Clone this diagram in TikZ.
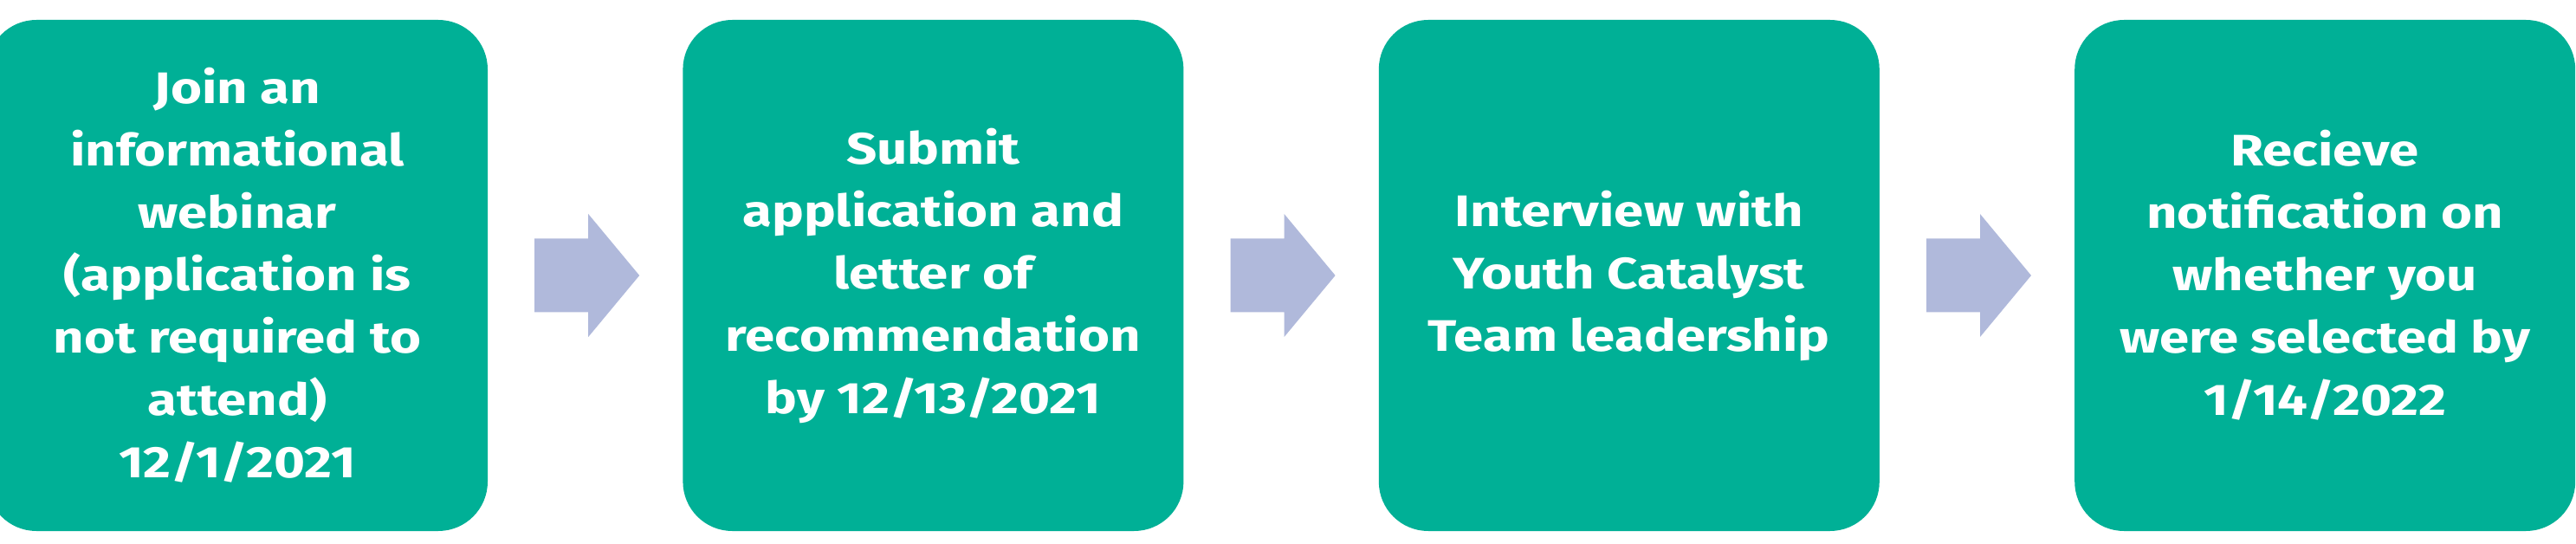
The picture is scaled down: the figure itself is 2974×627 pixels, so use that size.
\documentclass[tikz,border=0pt]{standalone}
\usepackage{fontspec}
\setmainfont{Fira Sans}[FakeStretch=1.21]
\usetikzlibrary{positioning}
\usetikzlibrary{calc}
\definecolor{stepteal}{RGB}{0,176,150}
\definecolor{steparrow}{RGB}{176,185,219}
\tikzset{
	stepnode/.style = {
		align=center,
		inner sep=0pt,
		text centered,
		font=\fontsize{51}{72}\selectfont\bfseries,
		anchor=center
	},
	node_step/.style = {
		stepnode,
		rectangle,
		rounded corners=57pt,
		white,
		fill=stepteal,
		minimum width=578pt,
		minimum height=590pt
	},
	node_arrow/.style = {
		fill=steparrow,
		draw=none
	},
}
\newcommand{\steparrow}[1]{
	\fill[node_arrow] ($(#1.east)+(54,42.5)$) -- ++(62,0) -- ++(0,28.5)
		-- ($(#1.east)+(175,0)$) -- ($(#1.east)+(116,-71)$) -- ++(0,28.5)
		-- ($(#1.east)+(54,-42.5)$) -- cycle;
}

\begin{document}
\begin{tikzpicture}[x=1pt,y=1pt, node distance=225pt]
\useasboundingbox (0,0) rectangle (2974,627);
\node [node_step] (join) at (274,309) {Join an\\informational\\webinar\\(application is\\not required to\\attend)\\12/1/2021};
\node [node_step, right=of join] (submit) {Submit\\application and\\letter of\\recommendation\\by 12/13/2021};
\node [node_step, right=of submit] (interview) {Interview with\\Youth Catalyst\\Team leadership};
\node [node_step, right=of interview] (notify) {Recieve\\notification on\\whether you\\were selected by\\1/14/2022};
\steparrow{join}
\steparrow{submit}
\steparrow{interview}
\end{tikzpicture}
\end{document}
